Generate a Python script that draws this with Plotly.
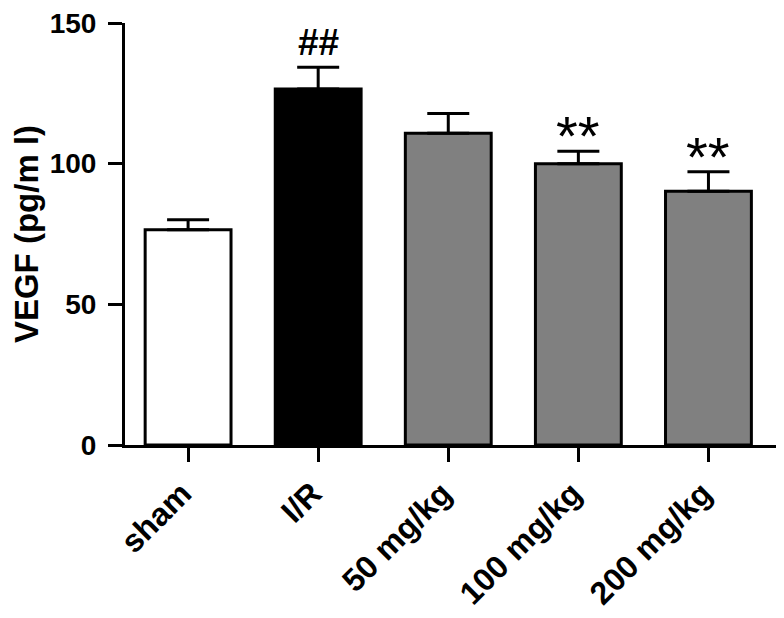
import plotly.graph_objects as go

categories = ["sham", "I/R", "50 mg/kg", "100 mg/kg", "200 mg/kg"]
means = [76.5, 126.5, 110.8, 100.0, 90.2]
errors = [3.6, 7.8, 7.0, 4.4, 6.9]
fill_colors = ["#ffffff", "#000000", "#808080", "#808080", "#808080"]
marks = ["", "##", "", "**", "**"]
y_ticks = [0, 50, 100, 150]

x_idx = list(range(len(categories)))

fig = go.Figure()
fig.add_trace(go.Bar(
    x=x_idx, y=means, width=0.66,
    marker=dict(color=fill_colors, line=dict(color="black", width=3)),
    error_y=dict(type="data", symmetric=False, array=errors,
                 arrayminus=[0] * len(errors), color="black",
                 thickness=3, width=21),
))

for i, (m, e, s) in enumerate(zip(means, errors, marks)):
    if s == "##":
        fig.add_annotation(x=i, y=m + e, text=s, showarrow=False,
                           yanchor="bottom", yshift=2,
                           font=dict(family="Liberation Sans", size=37,
                                     color="black", weight="bold"))
    elif s:
        fig.add_annotation(x=i, y=m + e, text=s, showarrow=False,
                           yanchor="bottom", yshift=-18,
                           font=dict(family="Liberation Sans", size=56, color="black"))

fig.update_layout(
    width=776, height=610,
    margin=dict(l=117, r=4, t=15, b=173),
    plot_bgcolor="white", paper_bgcolor="white",
    showlegend=False,
    font=dict(family="Liberation Sans", color="black"),
    xaxis=dict(
        range=[-0.485, 4.55], tickmode="array", tickvals=x_idx,
        ticktext=categories, tickangle=-45,
        showline=True, linecolor="black", linewidth=3,
        ticks="outside", ticklen=14, tickwidth=3, tickcolor="black",
        showgrid=False, zeroline=False, automargin=False,
        ticklabelshift=-6,
        tickfont=dict(family="Liberation Sans", size=32, color="black", weight="bold"),
    ),
    yaxis=dict(
        range=[0, 150], tickmode="array", tickvals=y_ticks,
        showline=True, linecolor="black", linewidth=3,
        ticks="outside", ticklen=14, tickwidth=3, tickcolor="black",
        showgrid=False, zeroline=False, automargin=False,
        ticklabeloverflow="allow", ticklabelstandoff=6,
        tickfont=dict(family="Liberation Sans", size=28, color="black", weight="bold"),
        title=dict(text="VEGF (pg/m l)", standoff=25,
                   font=dict(family="Liberation Sans", size=33, color="black", weight="bold")),
    ),
)

fig.write_html("out.html")
